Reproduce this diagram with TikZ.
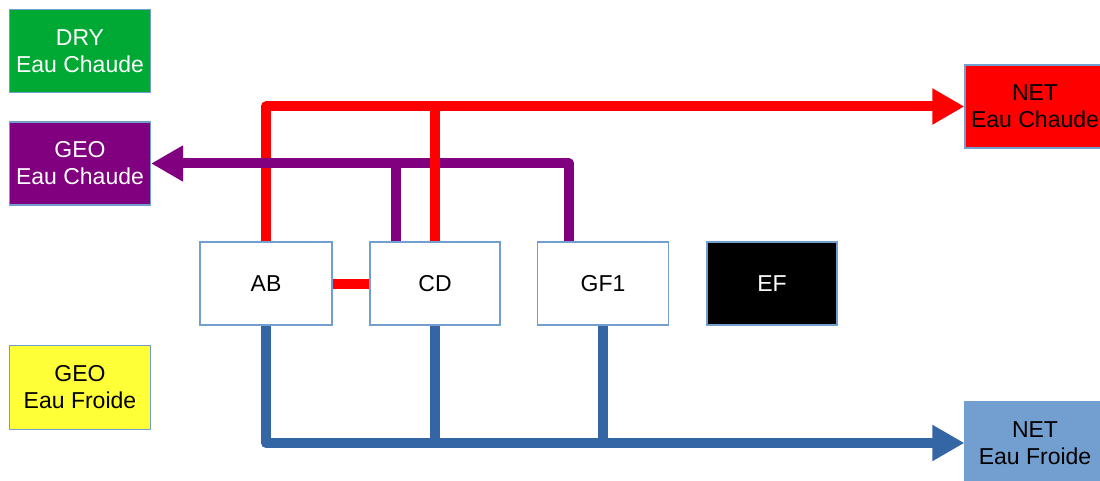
\documentclass[tikz,border=0pt]{standalone}
\usepackage{fontspec}
\setmainfont{Liberation Sans}
\usetikzlibrary{arrows.meta}
\definecolor{cgreen}{HTML}{00A933}
\definecolor{cpurple}{HTML}{800080}
\definecolor{cyellow}{HTML}{FFFF38}
\definecolor{cred}{HTML}{FF0000}
\definecolor{clblue}{HTML}{729FCF}
\definecolor{cblue}{HTML}{3465A4}
\begin{document}
\begin{tikzpicture}[x=1pt,y=-1pt,
  box/.style={draw=clblue,line width=1.2pt,minimum width=#1,minimum height=83pt,inner sep=0pt,align=center,font=\fontsize{23}{27}\selectfont},
  box/.default=131pt,
  pipe/.style={line width=10pt,line join=round},
  tip/.style={-{Triangle[length=32pt,width=34pt]}}]
\useasboundingbox (0,0) rectangle (1100,481);
\clip (0,0) rectangle (1100,481);
\node[box=141pt,fill=cgreen,text=white] (dry) at (80,51) {DRY\\Eau Chaude};
\node[box=141pt,fill=cpurple,text=white] (geoc) at (80,163.5) {GEO\\Eau Chaude};
\node[box=141pt,fill=cyellow,text=black,minimum height=84pt] (geof) at (80,387.5) {GEO\\Eau Froide};
\node[box=140pt,fill=cred,text=black] (netc) at (1035,106.5) {NET\\Eau Chaude};
\node[box=140pt,fill=clblue,text=black] (netf) at (1035,443) {NET\\Eau Froide};
\node[box=132pt,fill=white] (ab) at (266,283.5) {AB};
\node[box=130pt,fill=white] (cd) at (435,283.5) {CD};
\node[box=131pt,fill=white] (gf) at (603,283.5) {GF1};
\node[box=130pt,fill=black,text=white] (ef) at (772,283.5) {EF};
\coordinate (cdp) at ([xshift=-39pt]cd.north);
\coordinate (gfp) at ([xshift=-34pt]gf.north);
% red
\draw[pipe,cred,tip] (ab.north) |- (netc.west);
\draw[pipe,cred] (ab.east) -- (cd.west);
% purple
\draw[pipe,cpurple] (cdp) -- (cdp |- geoc.east);
\draw[pipe,cpurple,tip] (gfp) |- (geoc.east);
% red over purple
\draw[pipe,cred] (cd.north) -- (cd.north |- netc.west);
% blue
\draw[pipe,cblue] (cd.south) -- (cd.south |- netf.west);
\draw[pipe,cblue] (gf.south) -- (gf.south |- netf.west);
\draw[pipe,cblue,tip] (ab.south) |- (netf.west);
\end{tikzpicture}
\end{document}
